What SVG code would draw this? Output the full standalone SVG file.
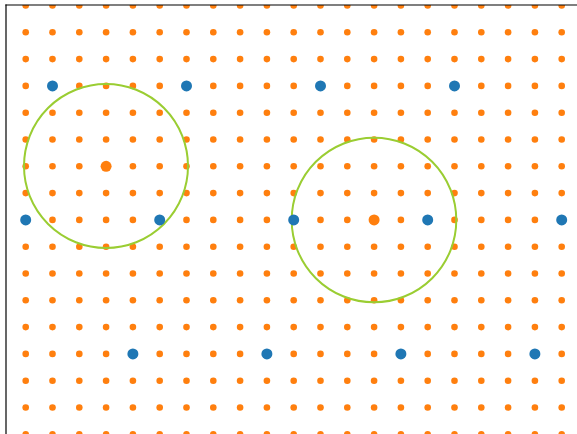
<svg xmlns="http://www.w3.org/2000/svg" xmlns:xlink="http://www.w3.org/1999/xlink" width="577" height="434" viewBox="0 0 577 434">
<defs>
<style>
.ring{fill:none;stroke:#9acd32;stroke-width:2}
.blue{fill:#1f77b4}
.ctr{fill:#ff7f0e}
.dot{fill:#ff7f0e}
.spine{stroke:#000;stroke-width:1.2;fill:none}
</style>
<g id="row">
<circle class="dot" cx="25.7" cy="0" r="3.3"/>
<circle class="dot" cx="52.5" cy="0" r="3.3"/>
<circle class="dot" cx="79.3" cy="0" r="3.3"/>
<circle class="dot" cx="106.1" cy="0" r="3.3"/>
<circle class="dot" cx="132.9" cy="0" r="3.3"/>
<circle class="dot" cx="159.7" cy="0" r="3.3"/>
<circle class="dot" cx="186.5" cy="0" r="3.3"/>
<circle class="dot" cx="213.3" cy="0" r="3.3"/>
<circle class="dot" cx="240.1" cy="0" r="3.3"/>
<circle class="dot" cx="266.9" cy="0" r="3.3"/>
<circle class="dot" cx="293.7" cy="0" r="3.3"/>
<circle class="dot" cx="320.5" cy="0" r="3.3"/>
<circle class="dot" cx="347.3" cy="0" r="3.3"/>
<circle class="dot" cx="374.1" cy="0" r="3.3"/>
<circle class="dot" cx="400.9" cy="0" r="3.3"/>
<circle class="dot" cx="427.7" cy="0" r="3.3"/>
<circle class="dot" cx="454.5" cy="0" r="3.3"/>
<circle class="dot" cx="481.3" cy="0" r="3.3"/>
<circle class="dot" cx="508.1" cy="0" r="3.3"/>
<circle class="dot" cx="534.9" cy="0" r="3.3"/>
<circle class="dot" cx="561.7" cy="0" r="3.3"/>
</g>
<clipPath id="ax"><rect x="6" y="5" width="571" height="429"/></clipPath>
</defs>
<rect width="577" height="434" fill="#fff"/>
<g clip-path="url(#ax)">
<g id="lattice">
<use href="#row" xlink:href="#row" y="5.5"/>
<use href="#row" xlink:href="#row" y="32.3"/>
<use href="#row" xlink:href="#row" y="59.1"/>
<use href="#row" xlink:href="#row" y="85.9"/>
<use href="#row" xlink:href="#row" y="112.7"/>
<use href="#row" xlink:href="#row" y="139.5"/>
<use href="#row" xlink:href="#row" y="166.3"/>
<use href="#row" xlink:href="#row" y="193.1"/>
<use href="#row" xlink:href="#row" y="219.9"/>
<use href="#row" xlink:href="#row" y="246.7"/>
<use href="#row" xlink:href="#row" y="273.5"/>
<use href="#row" xlink:href="#row" y="300.3"/>
<use href="#row" xlink:href="#row" y="327.1"/>
<use href="#row" xlink:href="#row" y="353.9"/>
<use href="#row" xlink:href="#row" y="380.7"/>
<use href="#row" xlink:href="#row" y="407.5"/>
<use href="#row" xlink:href="#row" y="434.3"/>
</g>
<g id="rings">
<circle class="ring" cx="106" cy="166" r="82"/>
<circle class="ring" cx="374" cy="220" r="82.3"/>
</g>
<g id="blue-points">
<circle class="blue" cx="52.5" cy="85.9" r="5.5"/>
<circle class="blue" cx="186.5" cy="85.9" r="5.5"/>
<circle class="blue" cx="320.5" cy="85.9" r="5.5"/>
<circle class="blue" cx="454.5" cy="85.9" r="5.5"/>
<circle class="blue" cx="25.7" cy="219.9" r="5.5"/>
<circle class="blue" cx="159.7" cy="219.9" r="5.5"/>
<circle class="blue" cx="293.7" cy="219.9" r="5.5"/>
<circle class="blue" cx="427.7" cy="219.9" r="5.5"/>
<circle class="blue" cx="561.7" cy="219.9" r="5.5"/>
<circle class="blue" cx="132.9" cy="353.9" r="5.5"/>
<circle class="blue" cx="266.9" cy="353.9" r="5.5"/>
<circle class="blue" cx="400.9" cy="353.9" r="5.5"/>
<circle class="blue" cx="534.9" cy="353.9" r="5.5"/>
</g>
<g id="centers">
<circle class="ctr" cx="106.1" cy="166.3" r="5.5"/>
<circle class="ctr" cx="374.1" cy="219.9" r="5.5"/>
</g>
</g>
<g id="spines">
<line class="spine" x1="6" y1="4.5" x2="6" y2="434"/>
<line class="spine" x1="5.4" y1="5" x2="577" y2="5"/>
</g>
</svg>
